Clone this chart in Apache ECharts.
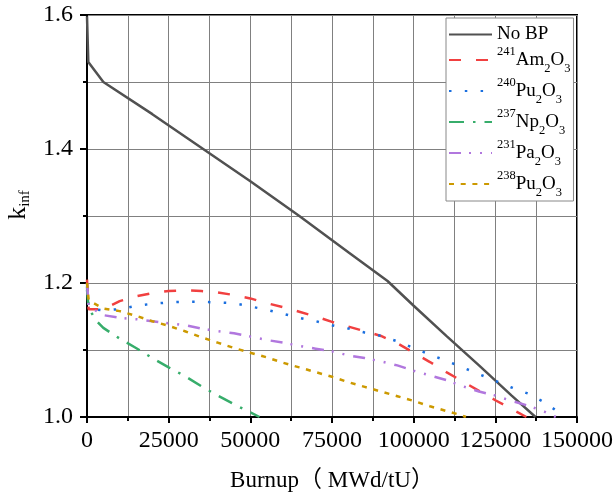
<!DOCTYPE html>
<html>
<head>
<meta charset="utf-8">
<script src="https://cdn.jsdelivr.net/npm/echarts@6/dist/echarts.min.js"></script>
<style>
    html, body {margin: 0; padding: 0; background: #fff;}
    #main {width: 615px; height: 496px;}
</style>
</head>
<body>
<div id="main"></div>
<script>
    // 数据 (burnup MWd/tU, kinf)
    var noBpBurnup = [0, 400, 5000, 20000, 35000, 50000, 65000, 80000, 92000, 100000, 110000, 120000, 130000, 137300];
    var noBpK = [1.598, 1.530, 1.500, 1.452, 1.402, 1.352, 1.300, 1.246, 1.203, 1.166, 1.121, 1.077, 1.032, 1.000];

    var am241Burnup = [0, 500, 5000, 10000, 15000, 20000, 25000, 30000, 35000, 40000, 45000, 50000, 55000, 60000, 65000, 70000, 75000, 80000, 85000, 90000, 95000, 100000, 105000, 110000, 115000, 120000, 125000, 130000, 134500];
    var am241K = [1.205, 1.161, 1.161, 1.173, 1.180, 1.185, 1.188, 1.189, 1.188, 1.186, 1.182, 1.177, 1.170, 1.164, 1.157, 1.150, 1.142, 1.135, 1.128, 1.121, 1.110, 1.096, 1.082, 1.067, 1.053, 1.039, 1.025, 1.012, 1.000];

    var pu240Burnup = [0, 500, 5000, 10000, 15000, 20000, 25000, 30000, 35000, 40000, 45000, 50000, 55000, 60000, 65000, 70000, 75000, 80000, 85000, 90000, 95000, 100000, 105000, 110000, 115000, 120000, 125000, 130000, 135000, 140000, 143500];
    var pu240K = [1.195, 1.162, 1.159, 1.161, 1.166, 1.169, 1.171, 1.172, 1.172, 1.171, 1.170, 1.165, 1.160, 1.154, 1.148, 1.143, 1.137, 1.132, 1.126, 1.121, 1.113, 1.103, 1.093, 1.084, 1.074, 1.064, 1.054, 1.044, 1.035, 1.022, 1.010];

    var np237Burnup = [0, 500, 3000, 5000, 10000, 15000, 20000, 25000, 30000, 35000, 40000, 45000, 50000, 52800];
    var np237K = [1.190, 1.162, 1.143, 1.133, 1.117, 1.103, 1.088, 1.074, 1.061, 1.046, 1.032, 1.019, 1.007, 1.000];

    var pa231Burnup = [0, 500, 5000, 10000, 15000, 20000, 25000, 30000, 35000, 40000, 45000, 50000, 55000, 60000, 65000, 70000, 75000, 80000, 85000, 90000, 95000, 100000, 105000, 110000, 115000, 120000, 125000, 130000, 135000, 140000, 143500];
    var pa231K = [1.200, 1.165, 1.152, 1.148, 1.146, 1.143, 1.140, 1.137, 1.132, 1.128, 1.125, 1.120, 1.115, 1.111, 1.106, 1.102, 1.098, 1.092, 1.088, 1.083, 1.077, 1.069, 1.062, 1.055, 1.046, 1.038, 1.032, 1.024, 1.017, 1.008, 1.000];

    var pu238Burnup = [0, 500, 2000, 5000, 10000, 15000, 20000, 25000, 30000, 35000, 40000, 45000, 50000, 55000, 60000, 65000, 70000, 75000, 80000, 85000, 90000, 95000, 100000, 105000, 110000, 115000, 116000];
    var pu238K = [1.200, 1.175, 1.170, 1.162, 1.158, 1.151, 1.143, 1.136, 1.128, 1.119, 1.111, 1.103, 1.096, 1.089, 1.081, 1.074, 1.067, 1.060, 1.052, 1.045, 1.038, 1.031, 1.024, 1.016, 1.009, 1.002, 1.000];

    var seriesNames = ["No BP", "Am241", "Pu240", "Np237", "Pa231", "Pu238"];
    var legendLabels = {
        "No BP": "{n|No BP}",
        "Am241": "{sup|241}{m|Am}{sub|2}{m|O}{sub|3}",
        "Pu240": "{sup|240}{m|Pu}{sub|2}{m|O}{sub|3}",
        "Np237": "{sup|237}{m|Np}{sub|2}{m|O}{sub|3}",
        "Pa231": "{sup|231}{m|Pa}{sub|2}{m|O}{sub|3}",
        "Pu238": "{sup|238}{m|Pu}{sub|2}{m|O}{sub|3}"
    };

    var serif = "Liberation Serif, Times New Roman, Noto Sans CJK SC, serif";

    function pairs(xs, ys) {
        return xs.map(function (x, i) {
            return [x, ys[i]];
        });
    }

    function makeLine(name, xs, ys, color, dash) {
        return {
            name: name,
            type: "line",
            data: pairs(xs, ys),
            symbol: "none",
            smooth: false,
            itemStyle: {color: color},
            lineStyle: {color: color, width: 2.5, type: dash, cap: "butt"}
        };
    }

    var chart = echarts.init(document.getElementById("main"));
    chart.setOption({
        animation: false,
        backgroundColor: "#fff",
        grid: {
            left: 87, right: 38, top: 15, bottom: 79,
            outerBoundsMode: "none",
            containLabel: false,
            show: true, borderColor: "#000", borderWidth: 2, backgroundColor: "transparent"
        },
        legend: {
            orient: "vertical",
            left: 446,
            top: 18,
            data: seriesNames,
            itemWidth: 43,
            itemHeight: 14,
            itemGap: 1,
            padding: [7, 3, 2, 2],
            borderColor: "#888",
            borderWidth: 1,
            backgroundColor: "#fff",
            itemStyle: {opacity: 0},
            formatter: function (name) {
                return legendLabels[name];
            },
            textStyle: {
                color: "#000",
                fontFamily: serif,
                rich: {
                    n: {fontSize: 19, lineHeight: 19, fontFamily: serif, color: "#000"},
                    m: {fontSize: 19, lineHeight: 30, fontFamily: serif, color: "#000"},
                    sup: {fontSize: 12.5, lineHeight: 17, verticalAlign: "top", fontFamily: serif, color: "#000"},
                    sub: {fontSize: 12.5, lineHeight: 14, verticalAlign: "bottom", fontFamily: serif, color: "#000"}
                }
            }
        },
        xAxis: {
            type: "value",
            min: 0,
            max: 150000,
            interval: 25000,
            name: "Burnup（ MWd/tU）",
            nameLocation: "middle",
            nameGap: 52,
            nameTextStyle: {fontFamily: serif, fontSize: 23, color: "#000"},
            axisLine: {show: true, lineStyle: {color: "#000", width: 2}},
            axisTick: {show: true, length: 6, lineStyle: {color: "#000", width: 2}},
            minorTick: {show: true, splitNumber: 2, length: 4, lineStyle: {color: "#000", width: 2}},
            axisLabel: {
                fontFamily: serif, fontSize: 24, color: "#000", margin: 12,
                formatter: function (v) {
                    return String(v);
                }
            },
            splitLine: {show: true, lineStyle: {color: "#808080", width: 1}},
            minorSplitLine: {show: true, lineStyle: {color: "#808080", width: 1}}
        },
        yAxis: {
            type: "value",
            min: 1.0,
            max: 1.6,
            interval: 0.2,
            name: "{k|k}{s|inf}",
            nameLocation: "middle",
            nameRotate: 90,
            nameGap: 54,
            nameTextStyle: {
                padding: [0, 0, 0, 22],
                rich: {
                    k: {fontFamily: serif, fontSize: 26, lineHeight: 28, color: "#000"},
                    s: {fontFamily: serif, fontSize: 15, lineHeight: 12, verticalAlign: "bottom", color: "#000"}
                }
            },
            axisLine: {show: true, lineStyle: {color: "#000", width: 2}},
            axisTick: {show: true, length: 7, lineStyle: {color: "#000", width: 2}},
            minorTick: {show: true, splitNumber: 2, length: 4, lineStyle: {color: "#000", width: 2}},
            axisLabel: {
                fontFamily: serif, fontSize: 24, color: "#000", margin: 14,
                formatter: function (v) {
                    return v.toFixed(1);
                }
            },
            splitLine: {show: true, lineStyle: {color: "#808080", width: 1}},
            minorSplitLine: {show: true, lineStyle: {color: "#808080", width: 1}}
        },
        series: [
            makeLine("No BP", noBpBurnup, noBpK, "#515151", "solid"),
            makeLine("Am241", am241Burnup, am241K, "#F14040", [12, 15]),
            makeLine("Pu240", pu240Burnup, pu240K, "#1A6FDF", [2.5, 13.3]),
            makeLine("Np237", np237Burnup, np237K, "#37AD6B", [15, 9, 2.5, 9]),
            makeLine("Pa231", pa231Burnup, pa231K, "#B177DE", [12, 8, 2, 9, 2, 9]),
            makeLine("Pu238", pu238Burnup, pu238K, "#CC9900", [5, 6.7])
        ]
    });
</script>
</body>
</html>
